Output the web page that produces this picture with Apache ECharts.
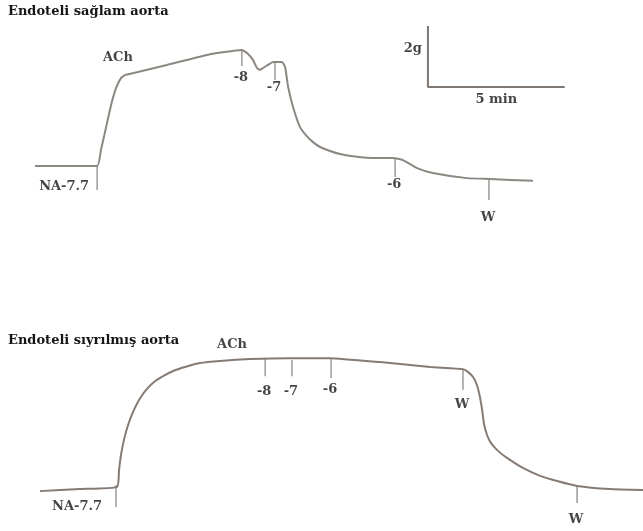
<!DOCTYPE html>
<html>
<head>
<meta charset="utf-8">
<script src="https://cdn.jsdelivr.net/npm/echarts@6/dist/echarts.min.js"></script>
<style>html,body{margin:0;padding:0;background:#fff}#c{width:643px;height:531px}</style>
</head>
<body>
<div id="c"></div>
<script>
// ---- DATA (time in min, tension in g) ----
const titles = ['Endoteli sağlam aorta', 'Endoteli sıyrılmış aorta'];

const topTime = [1.28, 3.55, 3.69, 3.87, 4.06, 4.24, 4.42, 4.57, 4.66, 6.10, 7.57, 8.84, 9.03, 9.25, 9.39, 9.50, 9.61, 9.79, 9.98, 10.31, 10.42, 10.53, 10.71, 10.96, 11.18, 11.44, 11.70, 12.06, 12.43, 12.97, 13.71, 14.36, 14.73, 15.24, 15.82, 17.07, 17.91, 19.48];
const topForce = [2.56, 2.56, 3.08, 3.80, 4.56, 5.11, 5.44, 5.54, 5.56, 5.87, 6.20, 6.36, 6.26, 6.03, 5.77, 5.71, 5.77, 5.87, 5.97, 5.97, 5.80, 5.15, 4.49, 3.84, 3.57, 3.34, 3.18, 3.05, 2.95, 2.87, 2.82, 2.82, 2.75, 2.49, 2.33, 2.16, 2.13, 2.07];

const botTime = [1.46, 2.92, 4.28, 4.35, 4.42, 4.53, 4.68, 4.86, 5.08, 5.34, 5.63, 5.96, 6.33, 6.76, 7.31, 8.04, 9.14, 10.60, 12.06, 13.89, 15.72, 16.92, 17.10, 17.29, 17.43, 17.54, 17.62, 17.69, 17.80, 17.94, 18.20, 18.53, 19.11, 19.74, 20.36, 21.09, 22.29, 23.50];
const botForce = [0.75, 0.82, 0.89, 1.44, 1.93, 2.43, 2.92, 3.34, 3.74, 4.07, 4.33, 4.52, 4.69, 4.82, 4.95, 5.02, 5.08, 5.11, 5.11, 4.98, 4.82, 4.75, 4.66, 4.49, 4.23, 3.84, 3.41, 2.95, 2.59, 2.33, 2.07, 1.84, 1.51, 1.25, 1.08, 0.92, 0.82, 0.79];

// event markers (drug additions / washes)
const topEventNames = ['NA-7.7', '-8', '-7', '-6', 'W'];
const topEventTimes = [3.55, 8.84, 10.05, 14.44, 17.87];
const topEventFrom  = [2.56, 6.36, 5.97, 2.82, 2.10];
const topEventTo    = [1.77, 5.84, 5.38, 2.20, 1.44];

const botEventNames = ['NA-7.7', '-8', '-7', '-6', 'W', 'W'];
const botEventTimes = [4.24, 9.69, 10.67, 12.10, 16.92, 21.09];
const botEventFrom  = [0.95, 5.11, 5.05, 5.11, 4.75, 0.92];
const botEventTo    = [0.23, 4.52, 4.52, 4.46, 4.07, 0.36];

// ACh annotation
const achLabel = 'ACh';
const achTimes = [4.31, 8.48];
const achForce = [6.10, 5.54];

// calibration bar: 2 g, 5 min
const scaleTime0 = 15.64, scaleForce0 = 5.15;
const scaleForceLen = 2, scaleTimeLen = 5;
const scaleLabels = ['2g', '5 min'];

// ---- STYLE ----
const FONT = 'DejaVu Serif';
const TXT = '#151515';
const topLabelGap = [0, 5, 1, 1, 11];
const botLabelGap = [0, 9, 9, 5, 8, 10];

const chart = echarts.init(document.getElementById('c'), null, {renderer: 'canvas'});

function zip(a, b) { return a.map((v, i) => [v, b[i]]); }

const series = [];
function addTrace(t, f, idx, color) {
  series.push({type: 'line', xAxisIndex: idx, yAxisIndex: idx, data: zip(t, f), showSymbol: false,
    smooth: 0.15, lineStyle: {color: color, width: 2}, silent: true, z: 3});
}
function addEvents(names, times, from, to, gaps, idx, naDist, naOff) {
  names.forEach((n, i) => {
    series.push({type: 'line', xAxisIndex: idx, yAxisIndex: idx, silent: true, showSymbol: false,
      data: [[times[i], from[i]], [times[i], to[i]]], lineStyle: {color: '#8a8a8a', width: 1.3}, z: 2});
    const isNA = n.indexOf('NA') === 0;
    series.push({type: 'scatter', xAxisIndex: idx, yAxisIndex: idx, silent: true, symbolSize: 0,
      data: [[times[i], to[i]]],
      label: {show: true, formatter: n, position: isNA ? 'left' : 'bottom',
        distance: isNA ? naDist : gaps[i], offset: isNA ? [0, naOff] : [-1, 0],
        fontFamily: FONT, fontSize: 13, fontWeight: 'bold', color: TXT}});
  });
}
addTrace(topTime, topForce, 0, '#8d8781');
addTrace(botTime, botForce, 1, '#857b74');
addEvents(topEventNames, topEventTimes, topEventFrom, topEventTo, topLabelGap, 0, 8, -3);
addEvents(botEventNames, botEventTimes, botEventFrom, botEventTo, botLabelGap, 1, 14, 0);

achTimes.forEach((t, i) => {
  series.push({type: 'scatter', xAxisIndex: i, yAxisIndex: i, silent: true, symbolSize: 0,
    data: [[t, achForce[i]]],
    label: {show: true, formatter: achLabel, position: 'inside', fontFamily: FONT, fontSize: 13, fontWeight: 'bold', color: TXT}});
});

// calibration bar
series.push({type: 'line', xAxisIndex: 0, yAxisIndex: 0, silent: true, showSymbol: false,
  data: [[scaleTime0, scaleForce0 + scaleForceLen], [scaleTime0, scaleForce0], [scaleTime0 + scaleTimeLen, scaleForce0]],
  lineStyle: {color: '#7d7873', width: 2}, z: 3});
series.push({type: 'scatter', xAxisIndex: 0, yAxisIndex: 0, silent: true, symbolSize: 0,
  data: [[scaleTime0, scaleForce0 + scaleForceLen * 0.62]],
  label: {show: true, formatter: scaleLabels[0], position: 'left', distance: 6, fontFamily: FONT, fontSize: 13, fontWeight: 'bold', color: TXT}});
series.push({type: 'scatter', xAxisIndex: 0, yAxisIndex: 0, silent: true, symbolSize: 0,
  data: [[scaleTime0 + scaleTimeLen / 2, scaleForce0]],
  label: {show: true, formatter: scaleLabels[1], position: 'bottom', distance: 6, fontFamily: FONT, fontSize: 13, fontWeight: 'bold', color: TXT}});

const axX = {type: 'value', min: 0, max: 23.5, show: false};
const axY = {type: 'value', min: 0, max: 8, show: false};

chart.setOption({
  animation: false,
  backgroundColor: '#ffffff',
  title: [
    {text: titles[0], left: 8, top: 5, padding: 0, textStyle: {fontFamily: FONT, fontSize: 13, fontWeight: 'bold', color: TXT}},
    {text: titles[1], left: 8, top: 334, padding: 0, textStyle: {fontFamily: FONT, fontSize: 13, fontWeight: 'bold', color: TXT}}
  ],
  grid: [
    {left: 0, top: 0, width: 643, height: 244},
    {left: 0, top: 270, width: 643, height: 244}
  ],
  xAxis: [Object.assign({gridIndex: 0}, axX), Object.assign({gridIndex: 1}, axX)],
  yAxis: [Object.assign({gridIndex: 0}, axY), Object.assign({gridIndex: 1}, axY)],
  series: series
});
</script>
</body>
</html>
